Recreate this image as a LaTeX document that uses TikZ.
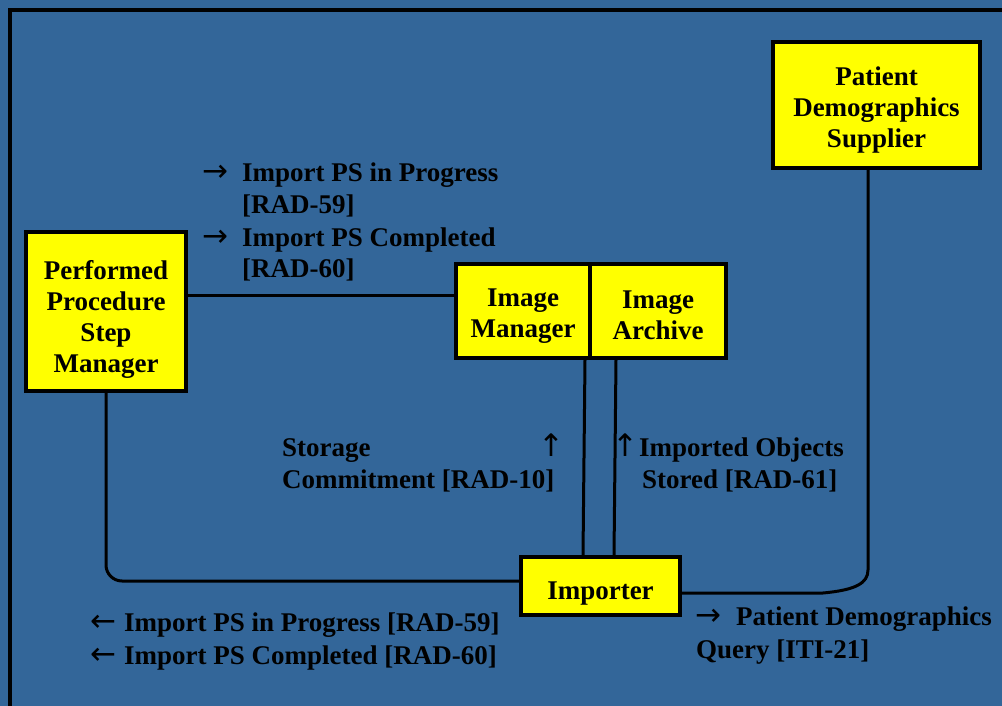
\documentclass[tikz,border=0pt]{standalone}
\usepackage{fontspec}
\setmainfont{Liberation Serif}
\newfontfamily\arrowfont{DejaVu Sans}
\definecolor{bgblue}{RGB}{51,102,153}
\definecolor{boxyellow}{RGB}{255,255,0}
\tikzset{
  actor/.style={draw=black, line width=3.5pt, fill=boxyellow, inner sep=0pt},
  actortext/.style={align=center, inner sep=0pt, font=\fontsize{27}{31}\selectfont\bfseries},
  lbl/.style={anchor=base west, inner sep=0pt, font=\fontsize{27}{31}\selectfont\bfseries},
  arr/.style={anchor=base west, inner sep=0pt, font=\fontsize{31}{31}\arrowfont},
  conn/.style={draw=black, line width=3pt}
}
\begin{document}
\begin{tikzpicture}[x=1pt,y=-1pt]
\useasboundingbox (0,0) rectangle (1002,706);
\fill[bgblue] (0,0) rectangle (1002,706);
\draw[line width=4pt] (10,706) -- (10,10) -- (1002,10);

% actors
\node[actor, minimum width=160pt, minimum height=159pt] (ppsm) at (106,311.5) {};
\node[actortext] (ppsm-t) at ([yshift=-8pt]ppsm.center) {Performed\\Procedure\\Step\\Manager};
\node[actor, minimum width=134pt, minimum height=94pt] (im) at (523,311) {};
\node[actortext] (im-t) at ([yshift=-5pt]im.center) {Image\\Manager};
\node[actor, minimum width=136pt, minimum height=94pt] (ia) at (658,311) {};
\node[actortext] (ia-t) at ([yshift=-4pt]ia.center) {Image\\Archive};
\node[actor, minimum width=207pt, minimum height=126pt] (pds) at (876.5,105) {};
\node[actortext] (pds-t) at ([yshift=-5pt]pds.center) {Patient\\Demographics\\Supplier};
\node[actor, minimum width=159pt, minimum height=58pt] (imp) at (600.5,586) {};
\node[actortext] (imp-t) at ([yshift=-8pt]imp.center) {Importer};

% connectors
\draw[conn] ([yshift=16.5pt]ppsm.east) -- ([yshift=16pt]im.west);
\draw[conn, rounded corners=16pt] (ppsm.south) |- ([yshift=5pt]imp.west);
\draw[conn] ([xshift=62pt]im.south) -- ([xshift=-17.5pt]imp.north);
\draw[conn] ([xshift=-42pt]ia.south) -- ([xshift=13.5pt]imp.north);
\coordinate (c1) at (823,593);
\coordinate (c2) at (868,570);
\draw[conn] ([yshift=-7pt]imp.east) -- (c1) .. controls (856,590) and (868,583) .. (c2) -- ([xshift=-8.5pt]pds.south);

% labels
\node[arr] (a1) at (202,182) {→};
\node[lbl] (t1) at (242,182) {Import PS in Progress};
\node[lbl] (t2) at (242,213) {[RAD-59]};
\node[arr] (a3) at (202,247) {→};
\node[lbl] (t3) at (242,247) {Import PS Completed};
\node[lbl] (t4) at (242,277) {[RAD-60]};

\node[lbl] (s1) at (282,456) {Storage};
\node[lbl] (s2) at (282,488) {Commitment [RAD-10]};
\node[arr] (s3) at (538,456) {↑};

\node[arr] (o0) at (612,456) {↑};
\node[lbl] (o1) at (639,456) {Imported Objects};
\node[lbl] (o2) at (642,488) {Stored [RAD-61]};

\node[arr] (b0) at (90,631) {←};
\node[lbl] (b1) at (124,631) {Import PS in Progress [RAD-59]};
\node[arr] (b2a) at (90,664) {←};
\node[lbl] (b2) at (124,664) {Import PS Completed [RAD-60]};

\node[arr] (q0) at (695,625) {→};
\node[lbl] (q1) at (736,625) {Patient Demographics};
\node[lbl] (q2) at (696,658) {Query [ITI-21]};
\end{tikzpicture}
\end{document}
